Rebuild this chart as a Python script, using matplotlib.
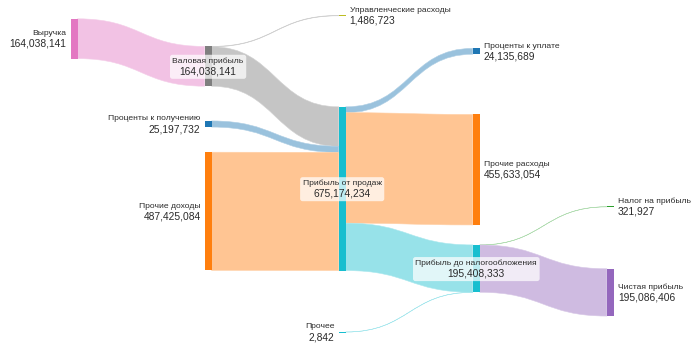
import matplotlib
matplotlib.use("Agg")
import matplotlib.pyplot as plt
from matplotlib.path import Path
from matplotlib.patches import PathPatch, Rectangle, FancyBboxPatch
from matplotlib.colors import to_rgb
from matplotlib.transforms import Bbox

plt.rcParams["font.family"] = ["Liberation Sans", "DejaVu Sans"]

# ---- data -------------------------------------------------------------
node_names = [
    "Выручка",                    # 0
    "Валовая прибыль",            # 1
    "Проценты к получению",       # 2
    "Прочие доходы",              # 3
    "Прибыль от продаж",          # 4
    "Управленческие расходы",     # 5
    "Проценты к уплате",          # 6
    "Прочие расходы",             # 7
    "Прибыль до налогообложения", # 8
    "Прочее",                     # 9
    "Налог на прибыль",           # 10
    "Чистая прибыль",             # 11
]
node_colors = [
    "#e377c2", "#7f7f7f", "#1f77b4", "#ff7f0e", "#17becf", "#bcbd22",
    "#1f77b4", "#ff7f0e", "#17becf", "#17becf", "#2ca02c", "#9467bd",
]

link_source = [0, 1, 1, 2, 3, 4, 4, 4, 9, 8, 8]
link_target = [1, 5, 4, 4, 4, 6, 7, 8, 8, 10, 11]
link_value = [
    164038141, 1486723, 162551418, 25197732, 487425084,
    24135689, 455633054, 195405491, 2842, 321927, 195086406,
]
link_colors = [
    "#e377c2", "#7f7f7f", "#7f7f7f", "#1f77b4", "#ff7f0e",
    "#1f77b4", "#ff7f0e", "#17becf", "#17becf", "#2ca02c", "#9467bd",
]

# ---- layout (pixel space) ---------------------------------------------
node_column = [0, 1, 1, 1, 2, 2, 3, 3, 3, 2, 4, 4]
node_center_y = [38.7, 66.3, 124.0, 211.3, 188.7, 15.6, 51.3, 169.7,
                 268.6, 332.0, 206.8, 292.4]
col_x0, col_step = 70.5, 134.1
node_w = 7.0
px_per_unit = 0.2425e-6
link_alpha = 0.45
text_color = "#2b2b2b"

n = len(node_names)
inflow = [0.0] * n
outflow = [0.0] * n
for s, t, v in zip(link_source, link_target, link_value):
    outflow[s] += v
    inflow[t] += v
node_value = [max(a, b) for a, b in zip(inflow, outflow)]
node_h = [v * px_per_unit for v in node_value]
node_x = [col_x0 + col_step * c for c in node_column]
node_top = [cy - h / 2 for cy, h in zip(node_center_y, node_h)]

fig = plt.figure(figsize=(7, 3.5), dpi=100)
ax = fig.add_axes([0, 0, 1, 1])
ax.set_xlim(0, 700)
ax.set_ylim(350, 0)
ax.axis("off")


def blend(color, a):
    r, g, b = to_rgb(color)
    return (1 - a + a * r, 1 - a + a * g, 1 - a + a * b)


# ---- links ------------------------------------------------------------
out_off = [0.0] * n
in_off = [0.0] * n
for s, t, v, c in zip(link_source, link_target, link_value, link_colors):
    h = v * px_per_unit
    x0 = node_x[s] + node_w
    x1 = node_x[t]
    y0 = node_top[s] + out_off[s]
    y1 = node_top[t] + in_off[t]
    out_off[s] += h
    in_off[t] += h
    xm = (x0 + x1) / 2
    verts = [
        (x0, y0), (xm, y0), (xm, y1), (x1, y1),
        (x1, y1 + h), (xm, y1 + h), (xm, y0 + h), (x0, y0 + h),
        (x0, y0),
    ]
    codes = [Path.MOVETO, Path.CURVE4, Path.CURVE4, Path.CURVE4,
             Path.LINETO, Path.CURVE4, Path.CURVE4, Path.CURVE4,
             Path.CLOSEPOLY]
    col = blend(c, link_alpha)
    edge = blend(c, link_alpha * 0.8)
    ax.add_patch(PathPatch(Path(verts, codes), facecolor=col,
                           edgecolor=edge, linewidth=0.4, zorder=1))

# ---- nodes ------------------------------------------------------------
for i in range(n):
    h = max(node_h[i], 1.0)
    top = node_center_y[i] - h / 2
    ax.add_patch(Rectangle((node_x[i], top), node_w, h,
                           facecolor=node_colors[i], edgecolor="none",
                           zorder=2))

# ---- labels -----------------------------------------------------------
name_fs, value_fs = 6.1, 7.4
renderer = fig.canvas.get_renderer()
inv = ax.transData.inverted()
for i in range(n):
    cy = node_center_y[i]
    name = node_names[i]
    val = f"{node_value[i]:,.0f}"
    if inflow[i] == 0:
        x, ha = node_x[i] - 4, "right"
    elif outflow[i] == 0:
        x, ha = node_x[i] + node_w + 4, "left"
    else:
        x, ha = node_x[i] + node_w / 2, "center"
    t1 = ax.text(x, cy - 5.3, name, ha=ha, va="center", fontsize=name_fs,
                 color=text_color, zorder=4)
    t2 = ax.text(x, cy + 5.0, val, ha=ha, va="center", fontsize=value_fs,
                 color=text_color, zorder=4)
    if ha == "center":
        bb = Bbox.union([t1.get_window_extent(renderer),
                         t2.get_window_extent(renderer)])
        (bx0, by0), (bx1, by1) = inv.transform([[bb.x0, bb.y0],
                                                 [bb.x1, bb.y1]])
        lx, rx = min(bx0, bx1), max(bx0, bx1)
        ty, byy = min(by0, by1), max(by0, by1)
        ax.add_patch(FancyBboxPatch(
            (lx, ty), rx - lx, byy - ty,
            boxstyle="round,pad=2.5,rounding_size=2.5",
            facecolor="white", edgecolor="none", alpha=0.72, zorder=3,
            mutation_aspect=1))

fig.savefig("out.png", dpi=100)
